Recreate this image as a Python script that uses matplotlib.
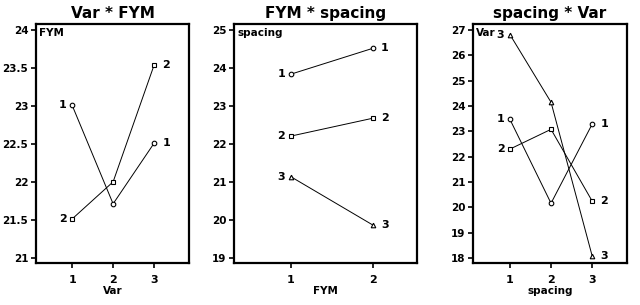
import matplotlib
matplotlib.use("Agg")
import matplotlib.pyplot as plt

# Panel 1: Var * FYM
var_levels = [1, 2, 3]
fym1_by_var = [23.01, 21.71, 22.51]
fym2_by_var = [21.51, 22.00, 23.54]

# Panel 2: FYM * spacing
fym_levels = [1, 2]
sp1_by_fym = [23.84, 24.52]
sp2_by_fym = [22.21, 22.68]
sp3_by_fym = [21.14, 19.87]

# Panel 3: spacing * Var
spacing_levels = [1, 2, 3]
var1_by_sp = [23.47, 20.16, 23.28]
var2_by_sp = [22.30, 23.08, 20.25]
var3_by_sp = [26.82, 24.15, 18.09]

W, H = 640, 305
fig = plt.figure(figsize=(W / 100, H / 100), dpi=100)
FONT = "DejaVu Sans"
NARROW = ["Liberation Sans Narrow", "DejaVu Sans"]


def make_ax(x0, x1, y0, y1):
    return fig.add_axes([x0 / W, 1 - y1 / H, (x1 - x0) / W, (y1 - y0) / H])


def style(ax, title, xlabel, legtitle, xticks, yticks, yticklabels, xlim, ylim):
    ax.set_xlim(*xlim)
    ax.set_ylim(*ylim)
    for s in ax.spines.values():
        s.set_linewidth(1.6)
    ax.set_xticks(xticks)
    ax.set_xticklabels([str(t) for t in xticks], fontsize=8, fontweight="bold", family=NARROW)
    ax.set_yticks(yticks)
    ax.set_yticklabels(yticklabels, fontsize=7.5, fontweight="bold", family=NARROW)
    ax.tick_params(axis="both", direction="out", length=3.5, width=1.2, pad=2)
    ax.tick_params(axis="x", pad=5)
    ax.set_title(title, fontsize=11, fontweight="bold", family=FONT, pad=4)
    ax.set_xlabel(xlabel, fontsize=7.5, fontweight="bold", family=NARROW, labelpad=1)
    ax.text(0.02, 0.985, legtitle, transform=ax.transAxes, ha="left", va="top",
            fontsize=7.5, fontweight="bold", family=NARROW)


def series(ax, xs, ys, marker, label, left=True, right=True):
    ax.plot(xs, ys, color="black", lw=0.7, marker=marker, ms=3.3,
            mfc="white", mec="black", mew=0.8, zorder=3)
    if left:
        ax.annotate(label, (xs[0], ys[0]), xytext=(-4, 0), textcoords="offset points",
                    ha="right", va="center", fontsize=8, fontweight="bold", family=NARROW)
    if right:
        ax.annotate(label, (xs[-1], ys[-1]), xytext=(6, 0), textcoords="offset points",
                    ha="left", va="center", fontsize=8, fontweight="bold", family=NARROW)


# Panel 1
ax1 = make_ax(36, 189, 24, 263)
series(ax1, var_levels, fym1_by_var, "o", "1")
series(ax1, var_levels, fym2_by_var, "s", "2")
yt1 = [21, 21.5, 22, 22.5, 23, 23.5, 24]
style(ax1, "Var * FYM", "Var", "FYM", var_levels, yt1,
      ["21", "21.5", "22", "22.5", "23", "23.5", "24"], (0.12, 3.85), (20.93, 24.08))

# Panel 2
ax2 = make_ax(234, 417, 24, 263)
series(ax2, fym_levels, sp1_by_fym, "o", "1")
series(ax2, fym_levels, sp2_by_fym, "s", "2")
series(ax2, fym_levels, sp3_by_fym, "^", "3")
yt2 = [19, 20, 21, 22, 23, 24, 25]
style(ax2, "FYM * spacing", "FYM", "spacing", fym_levels, yt2,
      [str(v) for v in yt2], (0.305, 2.54), (18.87, 25.16))

# Panel 3
ax3 = make_ax(473, 627, 24, 263)
series(ax3, spacing_levels, var1_by_sp, "o", "1")
series(ax3, spacing_levels, var2_by_sp, "s", "2")
series(ax3, spacing_levels, var3_by_sp, "^", "3")
yt3 = [18, 19, 20, 21, 22, 23, 24, 25, 26, 27]
style(ax3, "spacing * Var", "spacing", "Var", spacing_levels, yt3,
      [str(v) for v in yt3], (0.1, 3.85), (17.8, 27.24))

fig.savefig("out.png", dpi=100)
